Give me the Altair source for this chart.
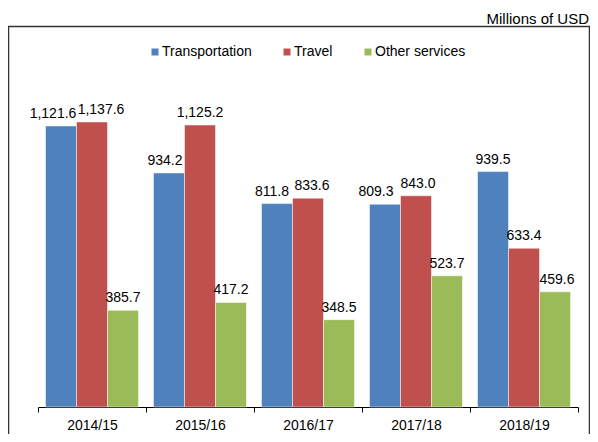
import altair as alt
import pandas as pd

years = ["2014/15", "2015/16", "2016/17", "2017/18", "2018/19"]
series = ["Transportation", "Travel", "Other services"]
transportation = [1121.6, 934.2, 811.8, 809.3, 939.5]
travel = [1137.6, 1125.2, 833.6, 843.0, 633.4]
other = [385.7, 417.2, 348.5, 523.7, 459.6]
colors = ["#4F81BD", "#C0504D", "#9BBB59"]
unit_label = "Millions of USD"

# small horizontal nudges of value labels (to avoid collisions, as in the original)
label_nudge = {
    ("2014/15", "Transportation"): -8, ("2014/15", "Travel"): 9,
    ("2015/16", "Transportation"): -4,
    ("2016/17", "Transportation"): -5, ("2016/17", "Travel"): 4,
    ("2017/18", "Transportation"): -9, ("2017/18", "Travel"): 2,
    ("2018/19", "Other services"): 2,
}

rows = []
for name, vals in zip(series, [transportation, travel, other]):
    for y, v in zip(years, vals):
        rows.append({"year": y, "series": name, "value": v})
df = pd.DataFrame(rows)

FONT = "Liberation Sans"

x = alt.X("year:N", sort=years, title=None,
          scale=alt.Scale(paddingInner=0, paddingOuter=0),
          axis=alt.Axis(tickBand="extent", labelAngle=0, labelFontSize=14,
                        labelFont=FONT, labelColor="#000", domainColor="#000",
                        tickColor="#000", tickSize=5, labelPadding=6))
xo = alt.XOffset("series:N", sort=series,
                 scale=alt.Scale(paddingInner=0, paddingOuter=0.242))
y = alt.Y("value:Q", scale=alt.Scale(domain=[0, 1325]), axis=None)

bars = alt.Chart(df).mark_bar(stroke="white", strokeWidth=0.5).encode(
    x=x, xOffset=xo, y=y,
    color=alt.Color("series:N", sort=series,
                    scale=alt.Scale(domain=series, range=colors),
                    legend=alt.Legend(title=None, orient="none", legendX=110,
                                      legendY=-30, direction="horizontal",
                                      symbolType="square", symbolSize=49,
                                      symbolStrokeWidth=0, labelFontSize=14,
                                      labelFont=FONT, labelColor="#000",
                                      labelOffset=0, columnPadding=28)),
)

# group label rows by nudge amount
nudges = sorted(set(label_nudge.values()) | {0})
label_layers = []
for d in nudges:
    keys = [(yy, s) for yy in years for s in series if label_nudge.get((yy, s), 0) == d]
    expr = " || ".join(
        f"(datum.year === '{yy}' && datum.series === '{s}')" for yy, s in keys)
    label_layers.append(
        alt.Chart(df).transform_filter(expr).mark_text(
            dy=-8, dx=d, baseline="alphabetic", fontSize=14, font=FONT, color="#000"
        ).encode(x=x, xOffset=xo, y=y, text=alt.Text("value:Q", format=",.1f"))
    )

frame = alt.Chart(alt.Data(values=[{}])).mark_rect(
    fill=None, stroke="#333", strokeWidth=1.5).encode(
    x=alt.value(-29.5), x2=alt.value(551.5),
    y=alt.value(-48.5), y2=alt.value(420),
)

title = alt.Chart(alt.Data(values=[{"t": unit_label}])).mark_text(
    align="right", baseline="middle", fontSize=15, font=FONT, color="#000").encode(
    x=alt.value(551), y=alt.value(-56), text="t:N",
)

chart = alt.layer(frame, bars, *label_layers, title).properties(
    width=540, height=332,
    autosize=alt.AutoSizeParams(type="none"),
    padding={"left": 30, "right": 12, "top": 67, "bottom": 27},
).configure_view(stroke=None)

chart.save("out.html", embed_options={"renderer": "svg", "actions": False})
